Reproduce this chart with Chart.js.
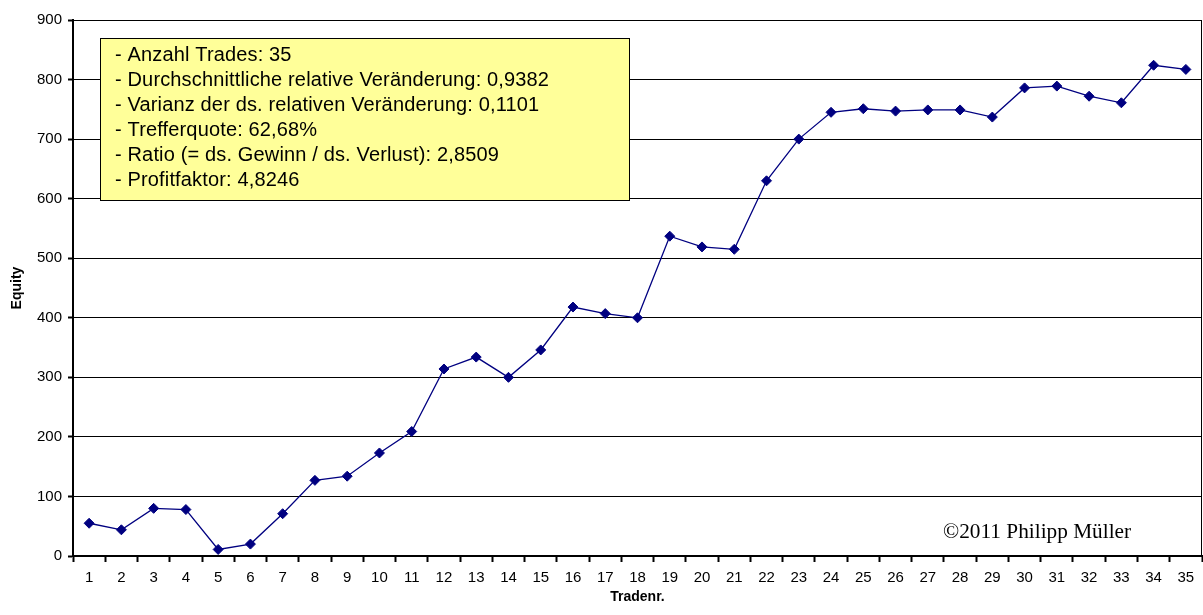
<!DOCTYPE html>
<html>
<head>
<meta charset="utf-8">
<script src="https://cdn.jsdelivr.net/npm/chart.js@4.4.1/dist/chart.umd.min.js"></script>
<style>
  html, body { margin: 0; padding: 0; background: #ffffff; overflow: hidden; }
  #wrap { width: 1203px; height: 615px; position: relative; }
  canvas { display: block; }
</style>
</head>
<body>
<div id="wrap"><canvas id="equityChart" width="1203" height="615"></canvas></div>
<script>
// Trade numbers along the x axis
const tradeNumbers = ['1','2','3','4','5','6','7','8','9','10','11','12','13','14','15','16','17','18',
  '19','20','21','22','23','24','25','26','27','28','29','30','31','32','33','34','35'];

// Equity after each trade
const equityValues = [55, 44, 80, 78, 11, 20, 71, 127, 134, 173, 209, 314, 334, 300, 346, 418, 407, 400,
  537, 519, 515, 630, 700, 745, 751, 747, 749, 749, 737, 786, 789, 772, 761, 824, 817];

// Y axis range and tick spacing
const yMin = 0;
const yMax = 900;
const yStep = 100;

// Statistics shown in the info box
const statLines = [
  '- Anzahl Trades: 35',
  '- Durchschnittliche relative Veränderung: 0,9382',
  '- Varianz der ds. relativen Veränderung: 0,1101',
  '- Trefferquote: 62,68%',
  '- Ratio (= ds. Gewinn / ds. Verlust): 2,8509',
  '- Profitfaktor: 4,8246'
];
const copyrightText = '©2011 Philipp Müller';

const SANS = '"Liberation Sans", Arial, sans-serif';
const NAVY = '#000080';

// Frame around the plot area, statistics box and copyright line
const overlayPlugin = {
  id: 'overlay',
  afterDraw(chart) {
    const ctx = chart.ctx;
    const a = chart.chartArea;
    ctx.save();
    // right edge of the plot frame
    ctx.strokeStyle = '#000';
    ctx.lineWidth = 1;
    ctx.beginPath();
    ctx.moveTo(a.right - 0.5, a.top);
    ctx.lineTo(a.right - 0.5, a.bottom);
    ctx.stroke();

    // statistics box
    const bx = a.left + 27.5, by = a.top + 18.5, bw = 529, bh = 162;
    ctx.fillStyle = '#FFFF99';
    ctx.fillRect(bx, by, bw, bh);
    ctx.strokeStyle = '#000';
    ctx.lineWidth = 1;
    ctx.strokeRect(bx, by, bw, bh);

    ctx.fillStyle = '#000';
    ctx.font = '20px ' + SANS;
    if ('letterSpacing' in ctx) ctx.letterSpacing = '0.15px';
    ctx.textAlign = 'left';
    ctx.textBaseline = 'alphabetic';
    statLines.forEach((line, i) => {
      ctx.fillText(line, a.left + 42, a.top + 41 + i * 25);
    });
    if ('letterSpacing' in ctx) ctx.letterSpacing = '0px';

    // copyright
    ctx.font = '21.3px "Liberation Serif", "Times New Roman", serif';
    ctx.textAlign = 'left';
    ctx.fillText(copyrightText, 943, 538);
    ctx.restore();
  }
};

const ctx = document.getElementById('equityChart').getContext('2d');
new Chart(ctx, {
  type: 'line',
  data: {
    labels: tradeNumbers,
    datasets: [{
      label: 'Equity',
      data: equityValues,
      borderColor: NAVY,
      backgroundColor: NAVY,
      borderWidth: 1.3,
      pointStyle: 'rectRot',
      pointRadius: 5,
      pointHoverRadius: 5,
      pointBorderWidth: 1,
      pointBackgroundColor: NAVY,
      pointBorderColor: NAVY,
      tension: 0,
      fill: false
    }]
  },
  plugins: [overlayPlugin],
  options: {
    responsive: false,
    animation: false,
    devicePixelRatio: 1,
    layout: { autoPadding: false, padding: { top: 20, right: 1, left: 0, bottom: 0 } },
    plugins: {
      legend: { display: false },
      tooltip: { enabled: false },
      title: { display: false }
    },
    scales: {
      x: {
        type: 'category',
        offset: true,
        grid: {
          display: true,
          offset: true,
          drawOnChartArea: false,
          drawTicks: true,
          tickLength: 6,
          tickWidth: 2,
          tickColor: '#000'
        },
        border: { display: true, color: '#000', width: 2 },
        ticks: {
          color: '#000',
          font: { family: SANS, size: 15 },
          padding: 7,
          maxRotation: 0,
          autoSkip: false
        },
        title: {
          display: true,
          text: 'Tradenr.',
          color: '#000',
          font: { family: SANS, size: 14, weight: 'bold' },
          padding: { top: 5, bottom: 9 }
        },
        afterFit(scale) {
          scale.height = 59;
          scale.paddingLeft = 0;
          scale.paddingRight = 0;
        }
      },
      y: {
        min: yMin,
        max: yMax,
        grid: {
          display: true,
          color: '#000',
          lineWidth: 1,
          drawTicks: true,
          tickLength: 5,
          tickWidth: 2,
          tickColor: '#000'
        },
        border: { display: true, color: '#000', width: 2 },
        ticks: {
          stepSize: yStep,
          color: '#000',
          font: { family: SANS, size: 15 },
          padding: 6
        },
        title: {
          display: true,
          text: 'Equity',
          color: '#000',
          font: { family: SANS, size: 14, weight: 'bold' },
          padding: { top: 9, bottom: 0 }
        },
        afterFit(scale) { scale.width = 73; }
      }
    }
  }
});
</script>
</body>
</html>
